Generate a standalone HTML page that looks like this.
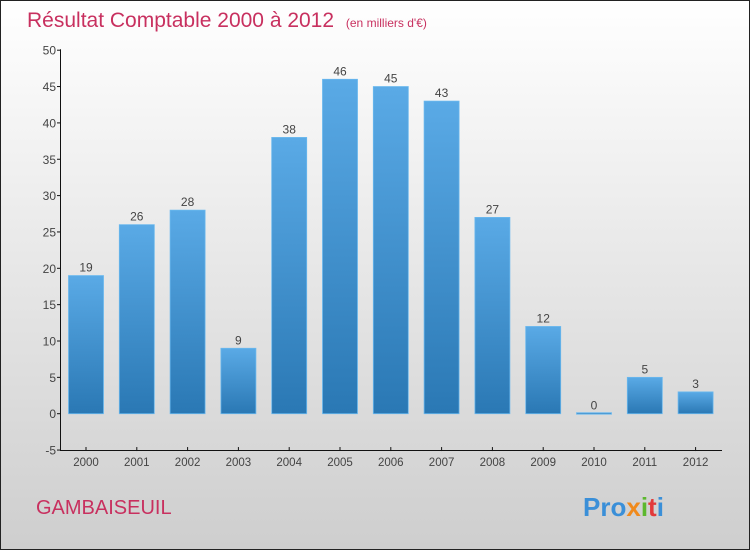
<!DOCTYPE html>
<html><head><meta charset="utf-8"><style>
body{margin:0}
#wrap{width:750px;height:550px;position:relative;overflow:hidden;font-family:"Liberation Sans",sans-serif}
</style></head><body>
<div id="wrap">
<svg id="chart" width="750" height="550" xmlns="http://www.w3.org/2000/svg">
<defs>
<linearGradient id="bg" x1="0" y1="0" x2="0" y2="1"><stop offset="0" stop-color="#ffffff"/><stop offset="1" stop-color="#cecece"/></linearGradient>
<linearGradient id="bar" x1="0" y1="0" x2="0" y2="1"><stop offset="0" stop-color="#5aaae6"/><stop offset="1" stop-color="#2a78b4"/></linearGradient>
</defs>
<rect x="0.5" y="0.5" width="749" height="549" fill="url(#bg)" stroke="#222"/>
<text x="27" y="27" font-size="21" fill="#c8305f">Résultat Comptable 2000 à 2012 <tspan font-size="12" dx="6">(en milliers d'€)</tspan></text>
<text x="36" y="514" font-size="20" fill="#c8305f">GAMBAISEUIL</text>
<text x="583" y="516" font-size="26" font-weight="bold"><tspan fill="#3a8fd8">Pro</tspan><tspan fill="#f08a1c">x</tspan><tspan fill="#5cb82e">i</tspan><tspan fill="#e23a3a">t</tspan><tspan fill="#3a8fd8">i</tspan></text>
<g id="axes"></g>
<g id="bars"></g>
</svg>
</div>
<script>
const categories=["2000","2001","2002","2003","2004","2005","2006","2007","2008","2009","2010","2011","2012"];
const values=[19,26,28,9,38,46,45,43,27,12,0,5,3];
const yTicks=[-5,0,5,10,15,20,25,30,35,40,45,50];
const NS="http://www.w3.org/2000/svg";
const y=v=>413.7-7.27*v;
const x=i=>86+50.8*i;
function mk(tag,attrs,parent){const e=document.createElementNS(NS,tag);for(const k in attrs)e.setAttribute(k,attrs[k]);parent.appendChild(e);return e;}
const ax=document.getElementById('axes'),bg=document.getElementById('bars');
let l=mk('line',{x1:60.5,y1:y(50)-1,x2:60.5,y2:y(-5),stroke:'#111','stroke-width':1},ax);


l=mk('line',{x1:60,y1:y(-5)+0.5,x2:722,y2:y(-5)+0.5,stroke:'#111','stroke-width':1},ax);


yTicks.forEach(t=>{
 const tk=mk('line',{x1:57,x2:61,y1:y(t),y2:y(t),stroke:'#111'},ax);
 
 
 const tx=mk('text',{x:56,y:y(t)+4.5,'font-size':12,fill:'#444','text-anchor':'end'},ax);
 tx.textContent=t;
 
 
});
categories.forEach((c,i)=>{
 const tk=mk('line',{x1:x(i),x2:x(i),y1:y(-5)-3,y2:y(-5)+1,stroke:'#111'},ax);
 
 
 const tx=mk('text',{x:x(i),y:466,'font-size':11.5,fill:'#444','text-anchor':'middle'},ax);
 tx.textContent=c;
 
 
 const v=values[i];
 const top=y(Math.max(v,0)),h=Math.max(Math.abs(y(v)-y(0)),1.5);
 const r=mk('rect',{x:x(i)-17.5,y:v>0?top:y(0)-1,width:35,height:h,fill:'url(#bar)',stroke:'#6ab8ee','stroke-width':0.8},bg);
 
 
 const vl=mk('text',{x:x(i),y:(v>0?top:y(0))-4,'font-size':12,fill:'#444','text-anchor':'middle'},bg);
 vl.textContent=v;
 
 
});
</script>
</body></html>
